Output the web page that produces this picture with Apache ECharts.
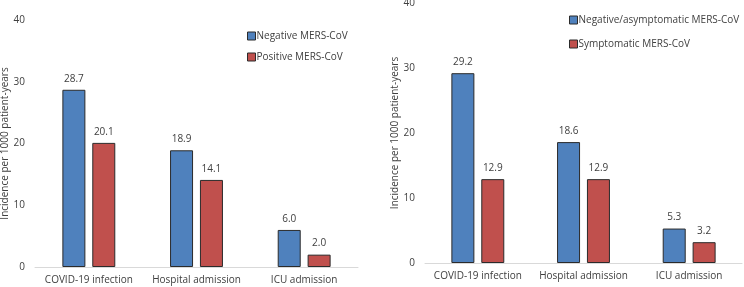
<!DOCTYPE html>
<html>
<head>
<meta charset="utf-8">
<script src="https://cdn.jsdelivr.net/npm/echarts@6/dist/echarts.min.js"></script>
<style>
  html, body { margin: 0; padding: 0; background: #fff; }
  #chart { width: 744px; height: 287px; }
</style>
</head>
<body>
<div id="chart"></div>
<script>
const categories = ['COVID-19 infection', 'Hospital admission', 'ICU admission'];

// left panel
const leftNames = ['Negative MERS-CoV', 'Positive MERS-CoV'];
const leftNegative = [28.7, 18.9, 6.0];
const leftPositive = [20.1, 14.1, 2.0];

// right panel
const rightNames = ['Negative/asymptomatic MERS-CoV', 'Symptomatic MERS-CoV'];
const rightNegative = [29.2, 18.6, 5.3];
const rightSymptomatic = [12.9, 12.9, 3.2];

const yTicks = { min: 0, max: 40, interval: 10 };
const yName = 'Incidence per 1000 patient-years';

const BLUE = '#4f81bd';
const RED = '#c0504d';
const TEXT = '#404040';
const FONT = 'Open Sans';
const FS = 10;

const chart = echarts.init(document.getElementById('chart'));

function xAxis(gridIndex) {
  return {
    type: 'category',
    gridIndex,
    data: categories,
    axisLine: { lineStyle: { color: '#d9d9d9' } },
    axisTick: { show: false },
    axisLabel: { interval: 0, color: TEXT, fontSize: FS, fontFamily: FONT, margin: 8 },
  };
}

function yAxis(gridIndex, nameGap) {
  return {
    type: 'value',
    gridIndex,
    ...yTicks,
    name: yName,
    nameLocation: 'middle',
    nameGap,
    nameTextStyle: { color: TEXT, fontSize: FS, fontFamily: FONT },
    axisLine: { show: false },
    axisTick: { show: false },
    splitLine: { show: false },
    axisLabel: { color: TEXT, fontSize: FS, fontFamily: FONT, margin: 10 },
  };
}

function bars(name, values, color, idx) {
  return {
    type: 'bar',
    name,
    xAxisIndex: idx,
    yAxisIndex: idx,
    data: values,
    barWidth: 23,
    barGap: '30%',
    itemStyle: { color, borderColor: '#2b2b2b', borderWidth: 1 },
    label: {
      show: true,
      position: 'top',
      distance: 6,
      color: TEXT,
      fontSize: FS,
      fontFamily: FONT,
      formatter: (p) => p.value.toFixed(1),
    },
  };
}

function legend(names, left, top, gap) {
  return {
    data: names,
    orient: 'vertical',
    left,
    top,
    itemWidth: 8,
    itemHeight: 8,
    itemGap: gap,
    icon: 'rect',
    itemStyle: { borderColor: '#2b2b2b', borderWidth: 1 },
    textStyle: { color: TEXT, fontSize: FS, fontFamily: FONT, padding: [0, 0, 0, -4] },
  };
}

chart.setOption({
  animation: false,
  grid: [
    { left: 35, top: 20, width: 323, bottom: 20, outerBoundsMode: 'none' },
    { left: 425, top: 3, width: 317, bottom: 24, outerBoundsMode: 'none' },
  ],
  legend: [
    legend(leftNames, 242, 26, 11),
    legend(rightNames, 564, 10, 14),
  ],
  xAxis: [xAxis(0), xAxis(1)],
  yAxis: [yAxis(0, 23), yAxis(1, 22)],
  series: [
    bars(leftNames[0], leftNegative, BLUE, 0),
    bars(leftNames[1], leftPositive, RED, 0),
    bars(rightNames[0], rightNegative, BLUE, 1),
    bars(rightNames[1], rightSymptomatic, RED, 1),
  ],
});
</script>
</body>
</html>
